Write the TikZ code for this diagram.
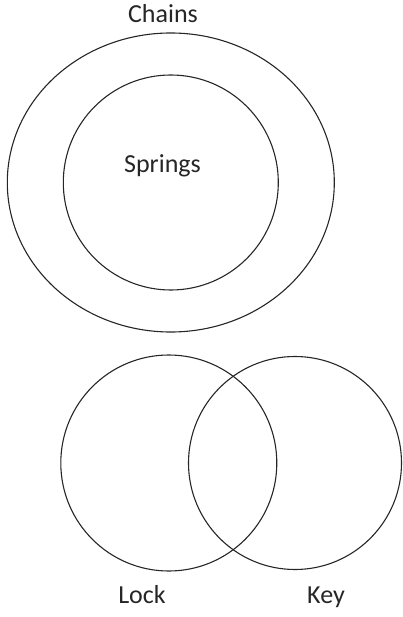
\documentclass[tikz,border=0pt]{standalone}
\usepackage{fontspec}
\setmainfont{Carlito}
\begin{document}
\begin{tikzpicture}[x=1pt,y=-1pt,
  ring/.style={draw=black!85, line width=1.1pt},
  lbl/.style={anchor=base, inner sep=0pt, font=\fontsize{26}{30}\selectfont, text=black!85}]
\useasboundingbox (0,0) rectangle (402,617);
\draw[ring] (170.8,182.5) ellipse [x radius=163.5, y radius=149.5];
\draw[ring] (170.8,182.5) circle [radius=107.5];
\draw[ring] (168.8,463) circle [radius=108];
\draw[ring] (295,463) circle [radius=106.5];
\node[lbl] (chains) at (163,22.7) {Chains};
\node[lbl] (springs) at (162.5,173) {Springs};
\node[lbl] (lock) at (142,603) {Lock};
\node[lbl] (key) at (326,603) {Key};
\end{tikzpicture}
\end{document}
